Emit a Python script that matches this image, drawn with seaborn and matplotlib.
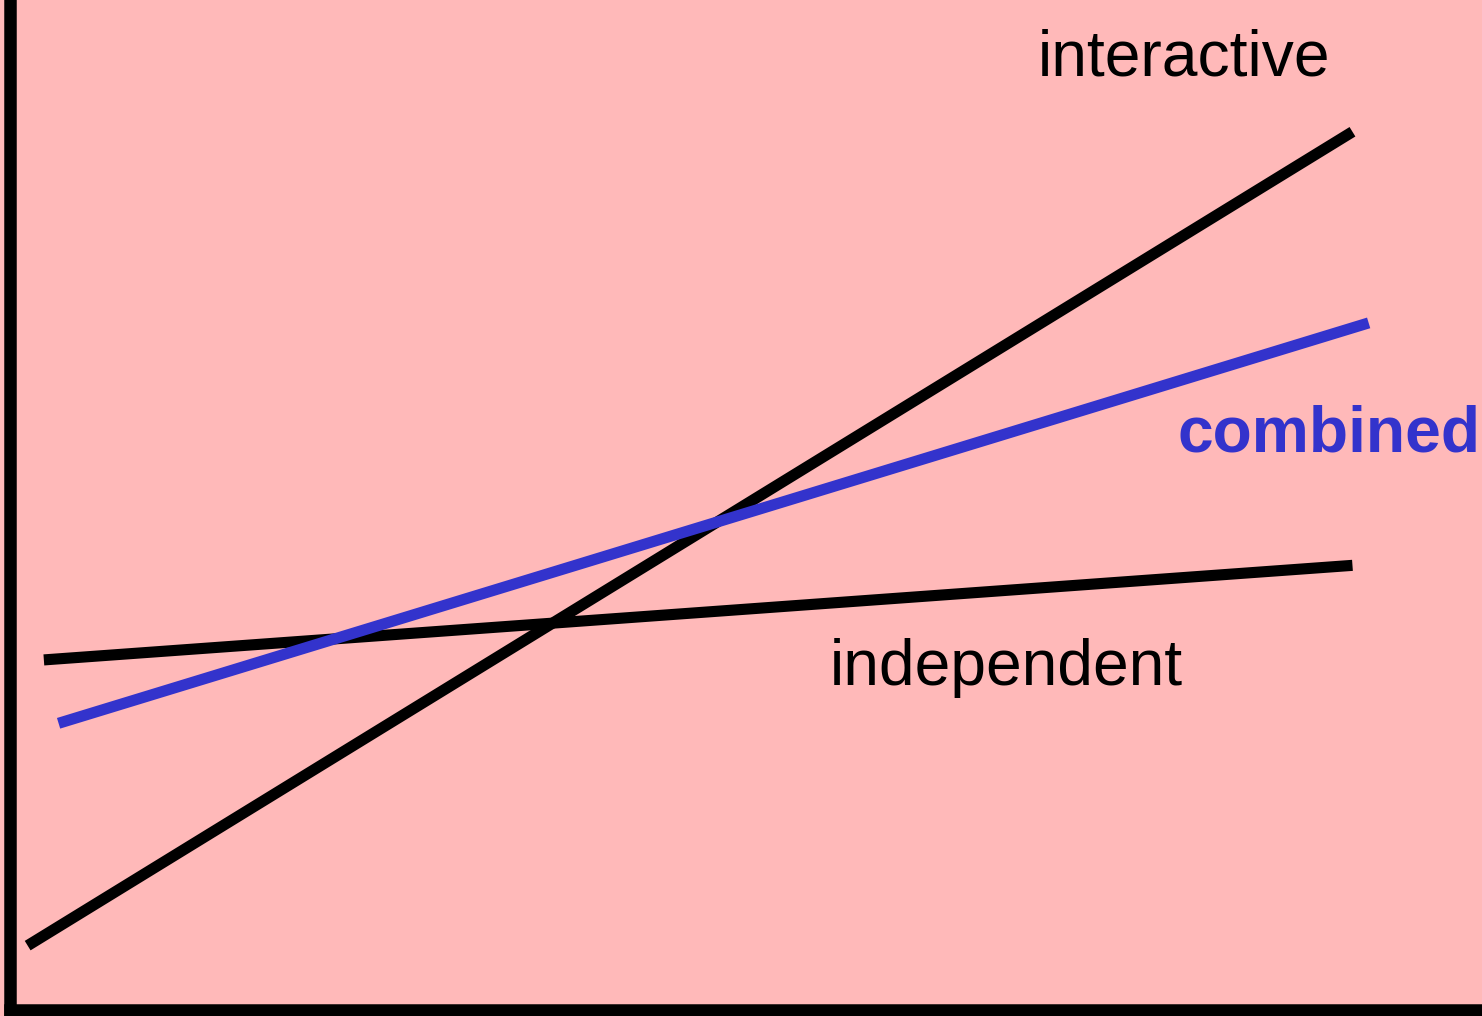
import pandas as pd
import matplotlib
matplotlib.use("Agg")
import matplotlib.pyplot as plt
import seaborn as sns

# end points of each line (arbitrary 0-100 units)
series = ["interactive", "independent", "combined"]
x_start = [1.2, 2.3, 3.3]
x_end = [91.2, 91.2, 92.3]
y_start = [6.4, 34.8, 28.5]
y_end = [87.3, 44.2, 68.3]

rows = []
for name, x0, x1, y0, y1 in zip(series, x_start, x_end, y_start, y_end):
    rows.append({"series": name, "x": x0, "y": y0})
    rows.append({"series": name, "x": x1, "y": y1})
df = pd.DataFrame(rows)

bg = "#FFB9B9"
blue = "#3333CC"
palette = {"interactive": "black", "independent": "black", "combined": blue}

sns.set_style("white")
plt.rcParams["font.family"] = ["Liberation Sans", "DejaVu Sans"]

fig = plt.figure(figsize=(14.82, 10.16), dpi=100, facecolor=bg)
ax = fig.add_axes([10 / 1482, 6 / 1016, 1472 / 1482, 1006 / 1016])
ax.set_facecolor(bg)

sns.lineplot(data=df, x="x", y="y", hue="series", palette=palette,
             linewidth=8, legend=False, ax=ax, sort=False,
             solid_capstyle="butt")

ax.set_xlim(0, 100)
ax.set_ylim(0, 100)
ax.set_xticks([])
ax.set_yticks([])
ax.set_xlabel("")
ax.set_ylabel("")
for side in ["top", "right"]:
    ax.spines[side].set_visible(False)
for side in ["left", "bottom"]:
    ax.spines[side].set_visible(True)
    ax.spines[side].set_color("black")
    ax.spines[side].set_linewidth(9)
    ax.spines[side].set_capstyle("projecting")

ax.text(69.8, 92.9, "interactive", fontsize=46.2, color="black",
        ha="left", va="baseline")
ax.text(55.7, 32.3, "independent", fontsize=46.2, color="black",
        ha="left", va="baseline")
ax.text(79.3, 55.5, "combined", fontsize=46.2, color=blue, fontweight="bold",
        ha="left", va="baseline")

fig.savefig("out.png", dpi=100, facecolor=bg)
